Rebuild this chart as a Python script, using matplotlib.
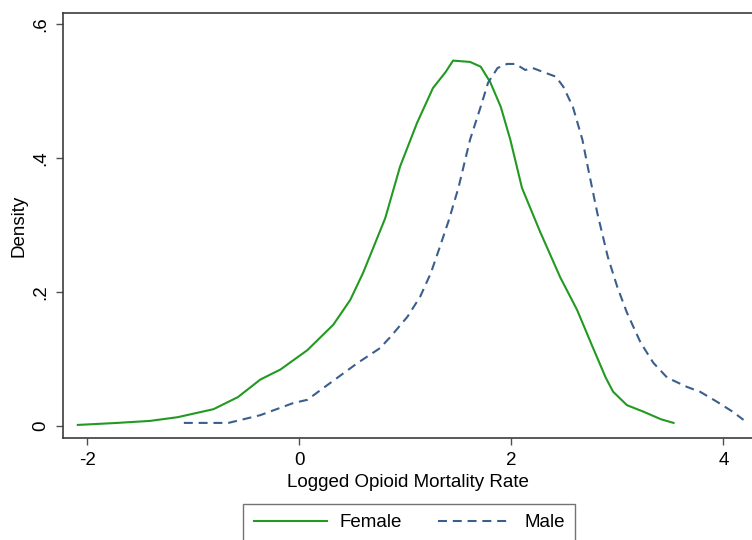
"""
    Gráfico de densidad (kernel) de la tasa de mortalidad por opioides (log), por sexo
"""
import matplotlib
matplotlib.use('Agg')
import matplotlib.pyplot as plt

# Valores
female_x = [-2.09, -1.72, -1.41, -1.15, -0.81, -0.58, -0.37, -0.27, -0.18, 0.075,
            0.32, 0.48, 0.60, 0.69, 0.81, 0.95, 1.11, 1.26, 1.38, 1.45, 1.61,
            1.71, 1.80, 1.90, 1.99, 2.10, 2.27, 2.46, 2.62, 2.75, 2.89, 2.96,
            3.09, 3.25, 3.41, 3.53]
female_y = [0.0015, 0.0045, 0.0075, 0.013, 0.025, 0.043, 0.069, 0.077, 0.084, 0.113,
            0.151, 0.188, 0.228, 0.263, 0.31, 0.387, 0.452, 0.504, 0.528, 0.545, 0.543,
            0.536, 0.513, 0.476, 0.427, 0.355, 0.29, 0.222, 0.173, 0.124, 0.072, 0.051,
            0.031, 0.021, 0.010, 0.0045]

male_x = [-1.09, -0.67, -0.37, -0.06, 0.075, 0.29, 0.55, 0.76, 0.86, 1.02, 1.14,
          1.24, 1.31, 1.41, 1.50, 1.61, 1.71, 1.78, 1.87, 1.96, 2.04, 2.13, 2.20,
          2.30, 2.42, 2.49, 2.58, 2.67, 2.72, 2.81, 2.91, 3.00, 3.09, 3.22, 3.34,
          3.47, 3.66, 3.78, 3.94, 4.09, 4.19]
male_y = [0.0045, 0.0045, 0.016, 0.034, 0.039, 0.064, 0.094, 0.116, 0.133, 0.163, 0.193,
          0.228, 0.26, 0.307, 0.355, 0.427, 0.476, 0.512, 0.534, 0.540, 0.540, 0.531, 0.534,
          0.528, 0.521, 0.506, 0.476, 0.427, 0.387, 0.318, 0.252, 0.207, 0.169, 0.124, 0.094,
          0.072, 0.058, 0.051, 0.036, 0.021, 0.009]

x_ticks = [-2, 0, 2, 4]
y_ticks = [0, 0.2, 0.4, 0.6]
y_tick_labels = ['0', '.2', '.4', '.6']

plt.rcParams['font.family'] = ['Liberation Sans', 'DejaVu Sans']
fs = 13.5

fig = plt.figure(figsize=(7.52, 5.4), dpi=100)
ax = fig.add_axes([63 / 752, 102 / 540, 689 / 752, 425 / 540])

ax.plot(female_x, female_y, color='#229a22', lw=1.5, label='Female')
ax.plot(male_x, male_y, color='#3b5f8c', lw=1.5, linestyle=(0, (4.3, 2.8)), label='Male')

ax.set_xlim(-2.23, 4.27)
ax.set_ylim(-0.018, 0.616)
ax.set_xticks(x_ticks)
ax.set_xticklabels([str(t) for t in x_ticks])
ax.set_yticks(y_ticks)
ax.set_yticklabels(y_tick_labels, rotation=90, va='center')

for side in ['left', 'bottom', 'top']:
    ax.spines[side].set_color('#3c3c3c')
    ax.spines[side].set_linewidth(1.2)
ax.spines['right'].set_visible(False)
ax.tick_params(direction='out', length=5, width=1.0, color='#505050',
               labelsize=fs, pad=5)

ax.set_xlabel('Logged Opioid Mortality Rate', fontsize=fs, labelpad=4)
ax.set_ylabel('Density', fontsize=fs, labelpad=3)

leg = fig.legend(loc='upper center', bbox_to_anchor=(409 / 752, 1 - 504 / 540),
                 ncol=2, fontsize=fs, frameon=True, fancybox=False,
                 handlelength=3.9, handletextpad=0.7, columnspacing=1.9,
                 borderpad=0.55, borderaxespad=0)
leg.get_frame().set_edgecolor('#505050')
leg.get_frame().set_linewidth(1.0)

fig.savefig('out.png', dpi=100)
